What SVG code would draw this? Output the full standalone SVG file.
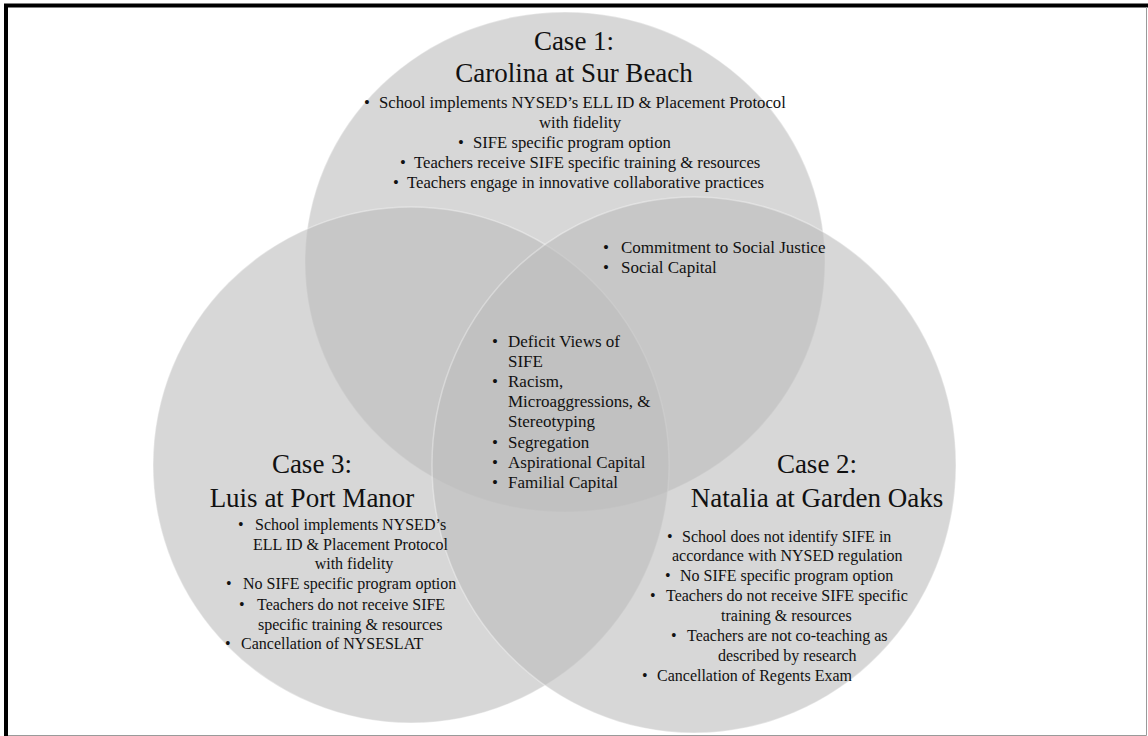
<svg xmlns="http://www.w3.org/2000/svg" width="1148" height="736" viewBox="0 0 1148 736">
<style>
.c{fill:#bdbdbd;fill-opacity:0.6;stroke:#ffffff;stroke-opacity:0.35;stroke-width:1.5}
text{font-family:"Liberation Serif","Times New Roman",serif;fill:#111}
.h{font-size:27px;text-anchor:middle}
.b{font-size:16px}
.m{font-size:16px;text-anchor:middle}
.t{font-size:16.7px}
.tm{font-size:16.7px;text-anchor:middle}
.s{font-size:17px}
</style>
<rect x="0" y="0" width="1148" height="736" fill="#ffffff"/>
<g id="frame">
<path d="M6 736V5.5H1148" fill="none" stroke="#000" stroke-width="4"/>
<path d="M1146.5 7V735.5H8" fill="none" stroke="#9a9a9a" stroke-width="1"/>
</g>
<g id="circles">
<ellipse id="circle-case1" class="c" cx="565" cy="262" rx="260" ry="250"/>
<circle id="circle-case3" class="c" cx="411" cy="465" r="258"/>
<ellipse id="circle-case2" class="c" cx="694" cy="465" rx="262" ry="268"/>
</g>
<g id="connectors"/>
<g id="case1">
<text class="h" x="574" y="50">Case 1:</text>
<text class="h" x="574" y="82">Carolina at Sur Beach</text>
<text class="t" x="364" y="108">•<tspan x="379">School implements NYSED’s ELL ID &amp; Placement Protocol</tspan></text>
<text class="tm" x="580" y="128">with fidelity</text>
<text class="t" x="458" y="148">•<tspan x="473">SIFE specific program option</tspan></text>
<text class="t" x="400" y="168">•<tspan x="414">Teachers receive SIFE specific training &amp; resources</tspan></text>
<text class="t" x="393" y="188">•<tspan x="407">Teachers engage in innovative collaborative practices</tspan></text>
</g>
<g id="case3">
<text class="h" x="312" y="473">Case 3:</text>
<text class="h" x="312" y="507">Luis at Port Manor</text>
<text class="b" x="238" y="530">•<tspan x="255">School implements NYSED’s</tspan></text>
<text class="b" x="253" y="550">ELL ID &amp; Placement Protocol</text>
<text class="m" x="354" y="569">with fidelity</text>
<text class="b" x="226" y="589">•<tspan x="243">No SIFE specific program option</tspan></text>
<text class="b" x="239" y="610">•<tspan x="257">Teachers do not receive SIFE</tspan></text>
<text class="b" x="258" y="630">specific training &amp; resources</text>
<text class="b" x="225" y="649">•<tspan x="241">Cancellation of NYSESLAT</tspan></text>
</g>
<g id="case2">
<text class="h" x="817" y="473">Case 2:</text>
<text class="h" x="817" y="507">Natalia at Garden Oaks</text>
<text class="b" x="667" y="542">•<tspan x="682">School does not identify SIFE in</tspan></text>
<text class="b" x="672" y="561">accordance with NYSED regulation</text>
<text class="b" x="665" y="581">•<tspan x="680">No SIFE specific program option</tspan></text>
<text class="b" x="650" y="601">•<tspan x="666">Teachers do not receive SIFE specific</tspan></text>
<text class="b" x="721" y="621">training &amp; resources</text>
<text class="b" x="671" y="641">•<tspan x="687">Teachers are not co-teaching as</tspan></text>
<text class="b" x="718" y="661">described by research</text>
<text class="b" x="642" y="681">•<tspan x="657">Cancellation of Regents Exam</tspan></text>
</g>
<g id="overlap-1-2">
<text class="s" x="603" y="253">•<tspan x="621">Commitment to Social Justice</tspan></text>
<text class="s" x="603" y="273">•<tspan x="621">Social Capital</tspan></text>
</g>
<g id="overlap-all">
<text class="s" x="492" y="347">•<tspan x="508">Deficit Views of</tspan></text>
<text class="s" x="508" y="367">SIFE</text>
<text class="s" x="492" y="387">•<tspan x="508">Racism,</tspan></text>
<text class="s" x="508" y="407">Microaggressions, &amp;</text>
<text class="s" x="508" y="427">Stereotyping</text>
<text class="s" x="492" y="448">•<tspan x="508">Segregation</tspan></text>
<text class="s" x="492" y="468">•<tspan x="508">Aspirational Capital</tspan></text>
<text class="s" x="492" y="488">•<tspan x="508">Familial Capital</tspan></text>
</g>
</svg>
